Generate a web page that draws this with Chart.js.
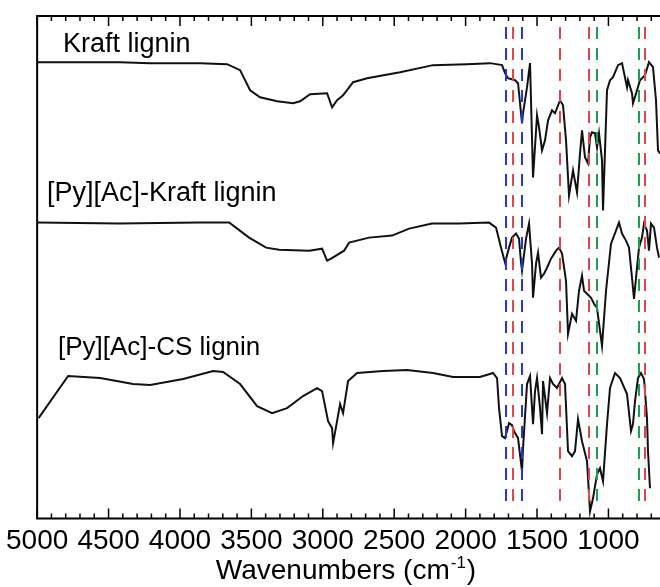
<!DOCTYPE html>
<html>
<head>
<meta charset="utf-8">
<script src="https://cdn.jsdelivr.net/npm/chart.js@4.4.0/dist/chart.umd.min.js"></script>
<style>
  html, body { margin: 0; padding: 0; background: #fff; }
  canvas { display: block; }
</style>
</head>
<body>
<canvas id="ftir" width="660" height="587"></canvas>
<script>
// FTIR spectra, wavenumber (cm-1) vs. offset transmittance (a.u.)
const kraftWn = [5000, 4419, 4209, 3859, 3670, 3579, 3509, 3439, 3320, 3208, 3159, 3089, 2970, 2935, 2900, 2858, 2830, 2788, 2690, 2459, 2228, 1990, 1829, 1745, 1724, 1703, 1654, 1633, 1605, 1598, 1570, 1549, 1528, 1500, 1486, 1465, 1444, 1423, 1395, 1374, 1339, 1318, 1297, 1276, 1248, 1220, 1199, 1185, 1164, 1143, 1129, 1115, 1094, 1080, 1066, 1045, 1038, 1010, 989, 968, 933, 905, 870, 863, 835, 828, 800, 779, 744, 716, 688, 667, 653, 639];
const kraftT = [91.0, 91.0, 90.8, 90.8, 90.6, 89.4, 85.4, 84.0, 83.2, 82.8, 83.2, 84.6, 84.8, 82.0, 83.4, 84.4, 85.4, 87.0, 87.8, 89.0, 90.4, 90.6, 90.8, 90.4, 88.8, 87.8, 87.4, 86.8, 78.8, 80.8, 86.0, 90.8, 68.0, 80.4, 78.0, 73.4, 75.4, 79.4, 81.4, 80.8, 83.4, 82.4, 75.4, 64.4, 69.4, 65.0, 72.8, 77.4, 72.0, 70.8, 76.0, 77.0, 76.8, 74.0, 76.8, 71.4, 61.4, 85.4, 87.4, 88.0, 90.4, 90.8, 86.0, 87.4, 84.8, 82.8, 85.4, 87.4, 88.4, 91.0, 90.0, 83.4, 73.4, 72.8];

const pyKraftWn = [5000, 4426, 3866, 3656, 3516, 3397, 3306, 3096, 3005, 2970, 2942, 2851, 2816, 2676, 2515, 2396, 2235, 2046, 1836, 1787, 1752, 1724, 1696, 1675, 1647, 1626, 1612, 1605, 1577, 1556, 1535, 1528, 1507, 1493, 1472, 1451, 1430, 1402, 1367, 1346, 1325, 1297, 1283, 1255, 1227, 1206, 1185, 1171, 1150, 1122, 1101, 1080, 1059, 1045, 1017, 982, 947, 926, 905, 877, 856, 835, 821, 800, 786, 765, 751, 730, 716, 702, 681, 660, 646];
const pyKraftT = [59.0, 58.8, 59.0, 59.0, 56.0, 54.0, 53.6, 53.4, 53.8, 51.4, 51.8, 53.4, 55.0, 56.0, 56.4, 57.8, 58.8, 58.8, 59.0, 58.0, 54.0, 51.0, 54.0, 56.0, 56.8, 55.8, 51.0, 49.4, 55.8, 58.8, 50.8, 44.0, 50.8, 53.0, 48.0, 48.8, 50.0, 51.8, 53.4, 54.0, 52.8, 47.4, 36.8, 40.8, 39.4, 45.4, 48.4, 45.4, 44.8, 44.0, 42.8, 42.0, 37.4, 34.4, 45.4, 54.8, 57.4, 59.0, 56.8, 55.4, 54.0, 48.0, 43.8, 50.0, 54.0, 56.0, 58.8, 57.4, 53.4, 58.8, 58.0, 54.0, 52.0];

const pyCsWn = [4990, 4783, 4559, 4328, 4209, 3978, 3768, 3698, 3579, 3460, 3355, 3250, 3138, 3040, 3005, 2963, 2935, 2928, 2900, 2879, 2858, 2823, 2760, 2578, 2410, 2228, 2088, 1900, 1830, 1808, 1780, 1766, 1745, 1724, 1696, 1675, 1661, 1633, 1605, 1598, 1570, 1549, 1528, 1514, 1500, 1479, 1465, 1458, 1430, 1409, 1388, 1360, 1325, 1304, 1283, 1255, 1234, 1213, 1185, 1164, 1150, 1129, 1108, 1080, 1059, 1038, 1010, 989, 954, 919, 870, 842, 828, 814, 793, 772, 751, 730, 723, 709];
const pyCsT = [20.0, 28.4, 28.0, 26.8, 26.6, 27.8, 29.4, 29.2, 26.8, 22.4, 21.0, 22.0, 24.4, 26.0, 25.4, 19.4, 18.0, 15.0, 19.4, 22.8, 21.0, 27.4, 29.0, 29.4, 29.6, 29.0, 28.2, 28.2, 28.8, 29.0, 28.0, 22.0, 16.4, 16.0, 19.0, 18.6, 17.4, 16.0, 9.4, 14.0, 26.8, 28.4, 18.8, 25.4, 28.0, 22.0, 16.8, 27.4, 21.0, 28.0, 26.8, 26.0, 28.0, 26.8, 13.4, 12.4, 13.4, 19.8, 15.4, 13.0, 11.4, 1.4, 4.0, 8.8, 10.0, 7.4, 18.8, 26.0, 29.0, 28.0, 24.8, 17.4, 18.8, 23.4, 28.0, 29.0, 27.8, 20.0, 13.4, 6.0];

// marked bands (cm-1), grouped by line colour in the figure
const blueBands = [1717, 1605];
const redBands = [1668, 1339, 1136, 744];
const greenBands = [1080, 786];

const xTicks = [5000, 4500, 4000, 3500, 3000, 2500, 2000, 1500, 1000];
const sampleNames = ['Kraft lignin', '[Py][Ac]-Kraft lignin', '[Py][Ac]-CS lignin'];

const FONT = '"Liberation Sans", Arial, sans-serif';

function toPoints(wn, t) {
  return wn.map((w, i) => ({ x: w, y: t[i] }));
}

function spectrum(wn, t) {
  return {
    data: toPoints(wn, t),
    borderColor: '#111',
    borderWidth: 2,
    pointRadius: 0,
    tension: 0,
    order: 2
  };
}

function bandLines(bands, color) {
  return bands.map(w => ({
    data: [{ x: w, y: 98 }, { x: w, y: 2 }],
    borderColor: color,
    borderWidth: 2,
    borderDash: [12, 9],
    pointRadius: 0,
    order: 1
  }));
}

// frame, inward ticks, sample names and axis title
const decorations = {
  id: 'decorations',
  afterDraw(chart) {
    const { ctx, chartArea: a, scales: { x } } = chart;
    ctx.save();
    ctx.strokeStyle = '#000';
    ctx.lineWidth = 2;
    ctx.beginPath();
    ctx.moveTo(a.right, a.top);
    ctx.lineTo(a.left, a.top);
    ctx.lineTo(a.left, a.bottom);
    ctx.lineTo(a.right, a.bottom);
    ctx.stroke();

    ctx.lineWidth = 1.5;
    for (let v = 5000; v >= x.min; v -= 100) {
      const px = x.getPixelForValue(v);
      const len = v % 500 === 0 ? 10 : 5;
      ctx.beginPath();
      ctx.moveTo(px, a.bottom);
      ctx.lineTo(px, a.bottom - len);
      ctx.moveTo(px, a.top);
      ctx.lineTo(px, a.top + len);
      ctx.stroke();
    }

    ctx.fillStyle = '#000';
    ctx.textBaseline = 'alphabetic';
    ctx.textAlign = 'left';
    ctx.font = '27px ' + FONT;
    ctx.fillText(sampleNames[0], 63, 52);
    ctx.fillText(sampleNames[1], 47, 201);
    ctx.font = '26px ' + FONT;
    ctx.fillText(sampleNames[2], 58, 355);

    // Wavenumbers (cm-1) with superscript
    const main = 'Wavenumbers (cm';
    const sup = '-1';
    const close = ')';
    ctx.font = '28px ' + FONT;
    const w1 = ctx.measureText(main).width;
    const w3 = ctx.measureText(close).width;
    ctx.font = '17px ' + FONT;
    const w2 = ctx.measureText(sup).width;
    const left = 346 - (w1 + w2 + w3) / 2 - 1;
    const base = 579;
    ctx.font = '28px ' + FONT;
    ctx.fillText(main, left, base);
    ctx.font = '17px ' + FONT;
    ctx.fillText(sup, left + w1 + 1, base - 11);
    ctx.font = '28px ' + FONT;
    ctx.fillText(close, left + w1 + w2 + 2, base);
    ctx.restore();
  }
};

new Chart(document.getElementById('ftir'), {
  type: 'line',
  data: {
    datasets: [
      ...bandLines(blueBands, '#2135d8'),
      ...bandLines(redBands, '#e2434b'),
      ...bandLines(greenBands, '#1e9e52'),
      spectrum(kraftWn, kraftT),
      spectrum(pyKraftWn, pyKraftT),
      spectrum(pyCsWn, pyCsT)
    ]
  },
  options: {
    responsive: false,
    animation: false,
    devicePixelRatio: 1,
    layout: { padding: { left: 37, right: 0, top: 16, bottom: 23 } },
    plugins: { legend: { display: false }, tooltip: { enabled: false } },
    scales: {
      x: {
        type: 'linear',
        reverse: true,
        min: 639,
        max: 5000,
        afterBuildTicks: scale => {
          scale.ticks = xTicks.map(v => ({ value: v }));
        },
        grid: { display: false, drawTicks: false },
        border: { display: false },
        ticks: {
          autoSkip: false,
          maxRotation: 0,
          padding: 6,
          color: '#000',
          font: { family: FONT, size: 28, lineHeight: 1.2 },
          callback: v => String(v)
        }
      },
      y: {
        display: false,
        min: 0,
        max: 100.2
      }
    }
  },
  plugins: [decorations]
});
</script>
</body>
</html>
